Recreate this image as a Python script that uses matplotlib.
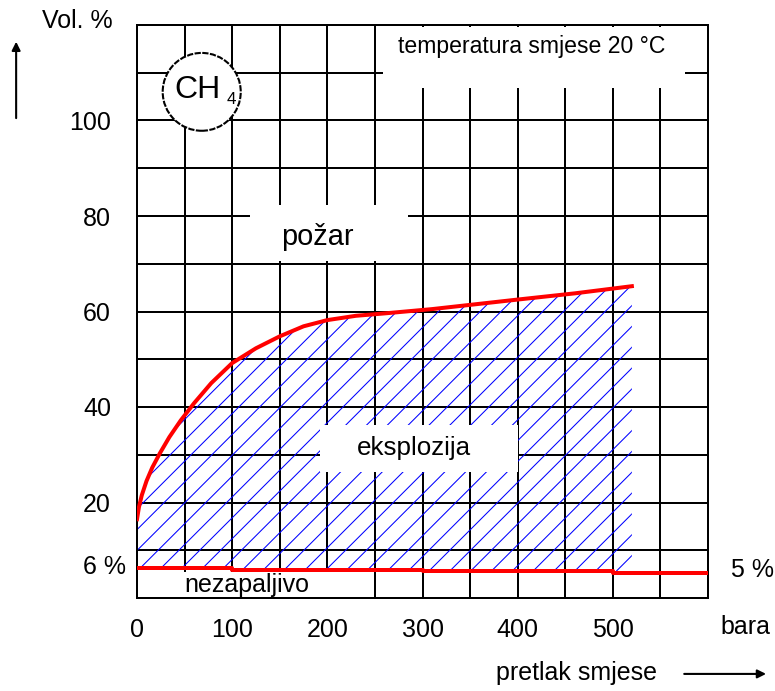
import numpy as np
import matplotlib
matplotlib.use("Agg")
import matplotlib.pyplot as plt
from matplotlib.patches import Rectangle, Ellipse

plt.rcParams["font.family"] = ["Liberation Sans", "DejaVu Sans"]
plt.rcParams["hatch.linewidth"] = 0.6

# ---- upper explosion limit (red curve), Vol.% vs pressure [bar] ----
curve_p = [0, 2, 5, 10, 16, 24, 34, 46, 60, 78, 100, 125, 150, 175, 200,
           230, 260, 310, 400, 460, 520]
curve_v = [16.5, 19, 21.5, 24.5, 27.3, 30.3, 33.7, 37.2, 40.8, 45, 49.2, 52.3,
           54.8, 56.9, 58.2, 59.1, 59.6, 60.5, 62.5, 63.8, 65.3]

# ---- lower explosion limit (red step line) ----
step_p = [0, 100, 300, 500, 600]
step_v = [6.3, 5.95, 5.65, 5.3]

x_major = [0, 100, 200, 300, 400, 500]
y_major = [20, 40, 60, 80, 100]

DPI = 125
PX = 72.0 / DPI   # points per pixel

fig = plt.figure(figsize=(775 / DPI, 691 / DPI), dpi=DPI)
ax = fig.add_axes([137 / 775, 93 / 691, 571 / 775, 573 / 691])
ax.set_xlim(0, 600)
ax.set_ylim(0, 120)

# grid
ax.set_xticks(x_major)
ax.set_xticks(np.arange(50, 601, 100), minor=True)
ax.set_yticks(y_major)
ax.set_yticks(np.arange(10, 121, 20), minor=True)
ax.set_axisbelow(True)
ax.grid(which="both", color="black", lw=2 * PX)
ax.tick_params(which="both", length=0)
ax.tick_params(axis="x", pad=20 * PX, labelsize=25 * PX)
ax.tick_params(axis="y", pad=26 * PX, labelsize=25 * PX)
for s in ax.spines.values():
    s.set_linewidth(2 * PX)

# hatched explosion region: upper curve then the lower steps backwards
lo_x, lo_y = [], []
for i in range(len(step_v)):
    lo_x += [step_p[i], min(step_p[i + 1], curve_p[-1])]
    lo_y += [step_v[i], step_v[i]]
poly_x = list(curve_p) + lo_x[::-1]
poly_y = list(curve_v) + lo_y[::-1]
ax.fill(poly_x, poly_y, facecolor="none", edgecolor="blue", lw=0,
        hatch="//", zorder=1)

# white label boxes covering grid / hatch
for (x0, x1, y0, y1) in [(258, 576, 106.8, 119.6),   # temperatura
                         (119, 285, 70.6, 82.3),     # pozar
                         (192, 400, 26.4, 36.2),     # eksplozija
                         (1, 245, 0.3, 5.4)]:        # nezapaljivo
    ax.add_patch(Rectangle((x0, y0), x1 - x0, y1 - y0, facecolor="white",
                           edgecolor="none", zorder=1.5))

# red limit lines
ax.plot(curve_p, curve_v, color="red", lw=4 * PX, zorder=3)
ax.step(step_p, step_v + [step_v[-1]], where="post", color="red",
        lw=4 * PX, zorder=3)

# CH4 circle
ax.add_patch(Ellipse((68, 106), 82, 16.3, facecolor="white", edgecolor="black",
                     lw=1.2, ls=(0, (3, 0.7)), zorder=2))
ax.text(64, 106.4, "CH", fontsize=32 * PX, ha="center", va="center", zorder=4)
ax.text(99, 104.3, "4", fontsize=17 * PX, ha="center", va="center", zorder=4)

# texts in the chart
ax.text(415, 115.4, "temperatura smjese 20 °C", fontsize=23 * PX,
        ha="center", va="center", zorder=4)
ax.text(190, 75.6, "požar", fontsize=29 * PX, ha="center", va="center", zorder=4)
ax.text(291, 31.4, "eksplozija", fontsize=26 * PX, ha="center", va="center",
        zorder=4)
ax.text(115, 2.7, "nezapaljivo", fontsize=25 * PX, ha="center", va="center",
        zorder=4)

# texts outside the axes
ax.text(-63, 120.8, "Vol. %", fontsize=25 * PX, ha="center", va="center")
ax.text(-12, 6.5, "6 %", fontsize=25 * PX, ha="right", va="center")
ax.text(624, 5.9, "5 %", fontsize=25 * PX, ha="left", va="center")
ax.text(639, -6.1, "bara", fontsize=25 * PX, ha="center", va="center")
ax.text(462, -15.7, "pretlak smjese", fontsize=25 * PX, ha="center", va="center")

ax.annotate("", xy=(-127, 116.5), xytext=(-127, 100.5), annotation_clip=False,
            arrowprops=dict(arrowstyle="-|>", lw=1.2, color="black",
                            mutation_scale=10, shrinkA=0, shrinkB=0))
ax.annotate("", xy=(661, -15.9), xytext=(575, -15.9), annotation_clip=False,
            arrowprops=dict(arrowstyle="-|>", lw=1.2, color="black",
                            mutation_scale=10, shrinkA=0, shrinkB=0))

fig.savefig("out.png", dpi=DPI)
